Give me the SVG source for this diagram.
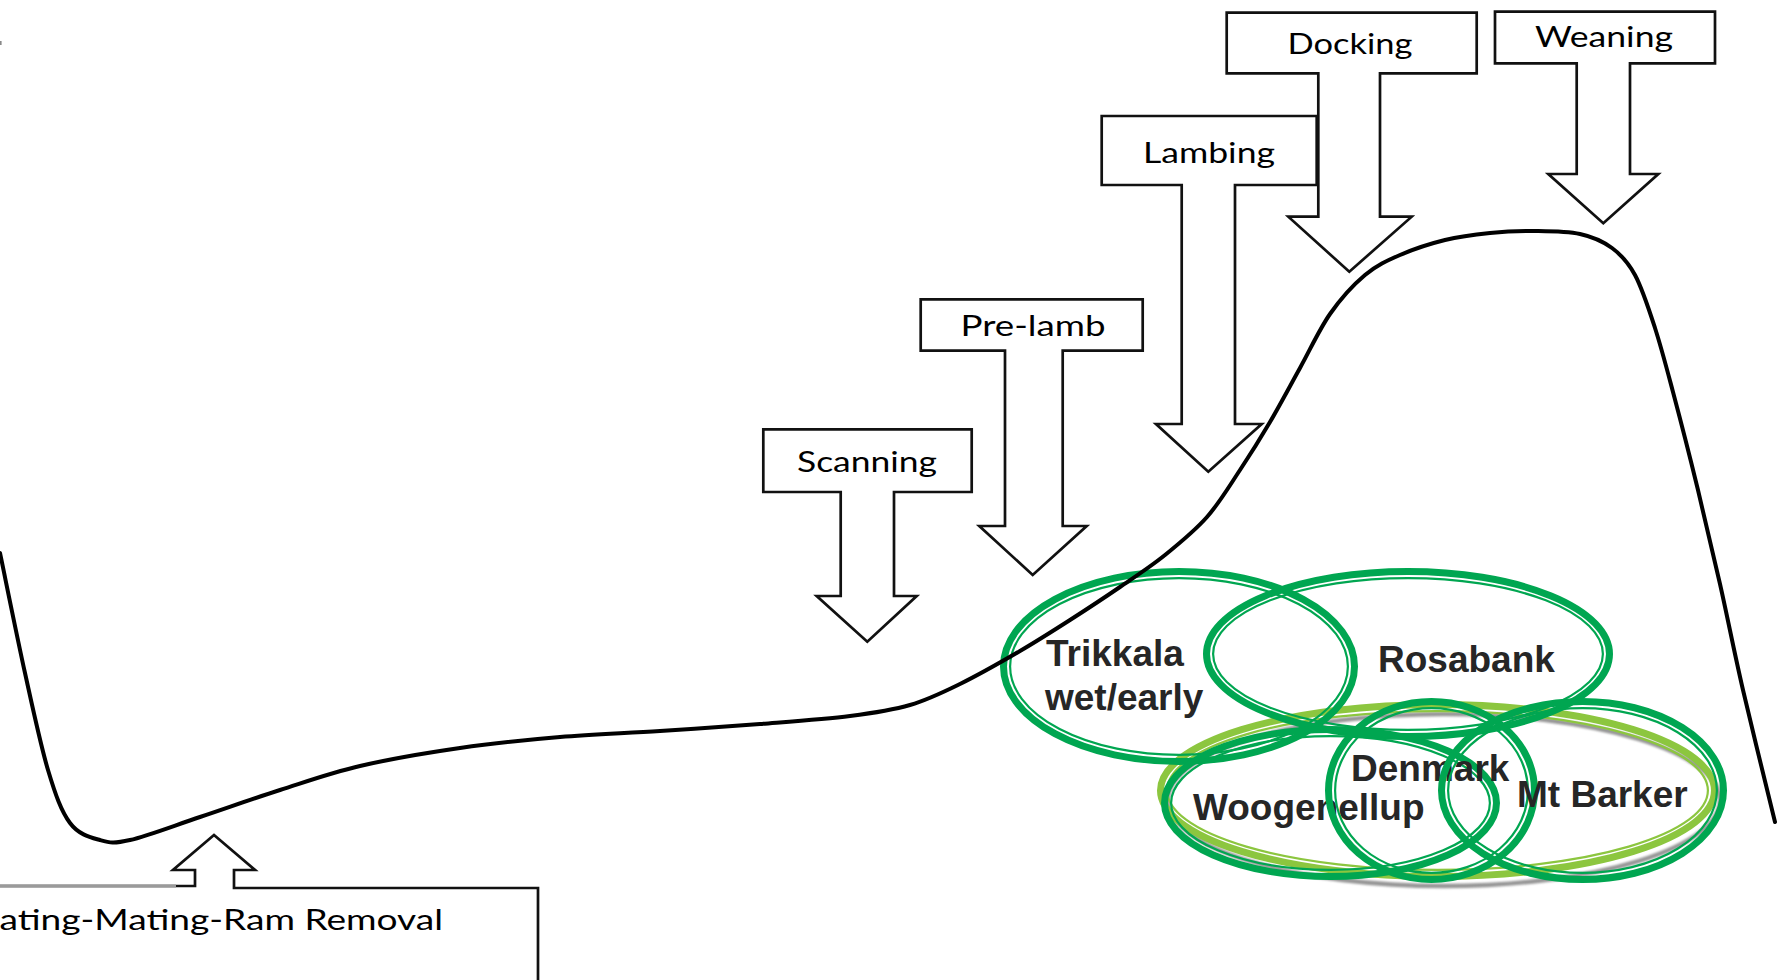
<svg xmlns="http://www.w3.org/2000/svg" width="1783" height="980" viewBox="0 0 1783 980">
  <defs>
    <style>
      .callout { fill: #ffffff; stroke: #111111; stroke-width: 2.7; stroke-linejoin: miter; }
      .lbl { font-family: Lato, "Liberation Sans", sans-serif; font-size: 29px; fill: #000000; }
      .ring-thick { fill: none; stroke: #00A651; stroke-width: 7; }
      .ring-thin { fill: none; stroke: #00A651; stroke-width: 2.2; }
      .lime-thick { fill: none; stroke: #8CC63F; stroke-width: 7; }
      .lime-thin { fill: none; stroke: #8CC63F; stroke-width: 2.2; }
      .shadow { fill: none; stroke: #959595; stroke-width: 4.5; }
      .venn { font-family: "Liberation Sans", Arial, sans-serif; font-weight: bold; font-size: 37px; fill: #262626; }
      .curve { fill: none; stroke: #000000; stroke-width: 4; stroke-linejoin: round; stroke-linecap: round; }
    </style>
    <filter id="soft" x="-5%" y="-10%" width="110%" height="120%">
      <feGaussianBlur stdDeviation="1.2"/>
    </filter>
  </defs>

  <rect x="0" y="0" width="1783" height="980" fill="#ffffff"/>
  <rect x="0" y="41" width="1.6" height="4" fill="#8a8a8a"/>

  <!-- stage callouts -->
  <g id="stage-docking">
    <path class="callout" d="M1226.7,12.7 H1476.7 V73.3 H1380 V216.7 H1411.7 L1349.3,271.7 L1288.3,216.7 H1318.3 V73.3 H1226.7 Z"/>
    <text class="lbl" x="1350" y="54" text-anchor="middle" textLength="125" lengthAdjust="spacingAndGlyphs">Docking</text>
  </g>
  <g id="stage-lambing">
    <path class="callout" d="M1101.7,116 H1316.7 V185 H1235 V424 H1261.7 L1208.3,471.7 L1156,424 H1181.7 V185 H1101.7 Z"/>
    <text class="lbl" x="1209" y="163" text-anchor="middle" textLength="132" lengthAdjust="spacingAndGlyphs">Lambing</text>
  </g>
  <g id="stage-weaning">
    <path class="callout" d="M1495,11.7 H1715 V63.3 H1630 V174 H1658.3 L1603.3,223.3 L1548.3,174 H1576.7 V63.3 H1495 Z"/>
    <text class="lbl" x="1604" y="47" text-anchor="middle" textLength="138" lengthAdjust="spacingAndGlyphs">Weaning</text>
  </g>
  <g id="stage-prelamb">
    <path class="callout" d="M920.7,299.3 H1142.7 V350.7 H1062.7 V526 H1086.7 L1032.7,575 L979.3,526 H1005 V350.7 H920.7 Z"/>
    <text class="lbl" x="1033" y="336" text-anchor="middle" textLength="145" lengthAdjust="spacingAndGlyphs">Pre-lamb</text>
  </g>
  <g id="stage-scanning">
    <path class="callout" d="M763.3,429.3 H971.7 V492 H894 V596 H916.7 L867.3,641.7 L816.7,596 H840.7 V492 H763.3 Z"/>
    <text class="lbl" x="867" y="472" text-anchor="middle" textLength="140" lengthAdjust="spacingAndGlyphs">Scanning</text>
  </g>
  <g id="stage-mating">
    <path class="callout" d="M-6,886 H195 V870 H173 L214,835 L255,870 H234 V888 H538 V990 H-6 Z"/>
    <line x1="0" y1="886" x2="176" y2="886" stroke="#9a9a9a" stroke-width="3"/>
    <text class="lbl" x="-31" y="930" font-size="31" textLength="474" lengthAdjust="spacingAndGlyphs">mating-Mating-Ram Removal</text>
  </g>

  <!-- variety groupings -->
  <g id="group-overall">
    <ellipse class="shadow" cx="1444" cy="800" rx="276" ry="86" filter="url(#soft)"/>
    <ellipse class="lime-thick" cx="1437.5" cy="790.5" rx="277" ry="86"/>
    <ellipse class="lime-thin" cx="1437.5" cy="790.5" rx="270.4" ry="79.4"/>
  </g>
  <g id="variety-trikkala">
    <ellipse class="ring-thick" cx="1179" cy="666.5" rx="175.5" ry="95"/>
    <ellipse class="ring-thin" cx="1179" cy="666.5" rx="168.9" ry="88.4"/>
    <text class="venn" x="1046" y="666" font-size="36">Trikkala</text>
    <text class="venn" x="1045" y="710" font-size="36">wet/early</text>
  </g>
  <g id="variety-rosabank">
    <ellipse class="ring-thick" cx="1408" cy="654" rx="201.5" ry="82.5"/>
    <ellipse class="ring-thin" cx="1408" cy="654" rx="194.9" ry="75.9"/>
    <text class="venn" x="1378" y="672">Rosabank</text>
  </g>
  <g id="variety-woogenellup">
    <ellipse class="ring-thick" cx="1330.5" cy="803" rx="166" ry="73.5"/>
    <ellipse class="ring-thin" cx="1330.5" cy="803" rx="159.4" ry="66.9"/>
    <text class="venn" x="1193" y="820">Woogenellup</text>
  </g>
  <g id="variety-denmark">
    <ellipse class="ring-thick" cx="1431.5" cy="790.5" rx="103" ry="89"/>
    <ellipse class="ring-thin" cx="1431.5" cy="790.5" rx="96.4" ry="82.4"/>
    <text class="venn" x="1351" y="781" font-size="31">Denmark</text>
  </g>
  <g id="variety-mtbarker">
    <ellipse class="ring-thick" cx="1582.5" cy="790.5" rx="141" ry="89"/>
    <ellipse class="ring-thin" cx="1582.5" cy="790.5" rx="134.4" ry="82.4"/>
    <text class="venn" x="1517" y="807">Mt Barker</text>
  </g>

  <!-- seasonal feed demand curve -->
  <g id="growth-curve">
    <path class="curve" d="M0,553
      C4.2,573 17,636.8 25,673
      C33,709.2 40.5,745 48,770
      C55.5,795 61.3,811.3 70,823
      C78.7,834.7 90,837.2 100,840
      C110,842.8 113.3,843.8 130,840
      C146.7,836.2 175,825.3 200,817
      C225,808.7 253.3,798.5 280,790
      C306.7,781.5 330,773 360,766
      C390,759 426.7,752.8 460,748
      C493.3,743.2 526.7,739.8 560,737
      C593.3,734.2 626.7,733.2 660,731
      C693.3,728.8 728.3,726.5 760,724
      C791.7,721.5 825,719.2 850,716
      C875,712.8 891.7,710.3 910,705
      C928.3,699.7 941.7,693 960,684
      C978.3,675 1001.7,661.7 1020,651
      C1038.3,640.3 1053.3,630.7 1070,620
      C1086.7,609.3 1104.2,597.8 1120,587
      C1135.8,576.2 1150.5,566.7 1165,555
      C1179.5,543.3 1194.5,531.2 1207,517
      C1219.5,502.8 1229.5,485.8 1240,470
      C1250.5,454.2 1260,439 1270,422
      C1280,405 1290,386 1300,368
      C1310,350 1319.2,329.5 1330,314
      C1340.8,298.5 1353.3,284.8 1365,275
      C1376.7,265.2 1386.7,260.8 1400,255
      C1413.3,249.2 1430,243.7 1445,240
      C1460,236.3 1475,234.5 1490,233
      C1505,231.5 1520,230.8 1535,231
      C1550,231.2 1567.2,231.2 1580,234
      C1592.8,236.8 1602.8,241.2 1612,248
      C1621.2,254.8 1627.8,261.7 1635,275
      C1642.2,288.3 1648.7,308.5 1655,328
      C1661.3,347.5 1666,365.7 1673,392
      C1680,418.3 1689.2,454 1697,486
      C1704.8,518 1712.3,550 1720,584
      C1727.7,618 1733.8,650.3 1743,690
      C1752.2,729.7 1769.7,800 1775,822"/>
  </g>
</svg>
